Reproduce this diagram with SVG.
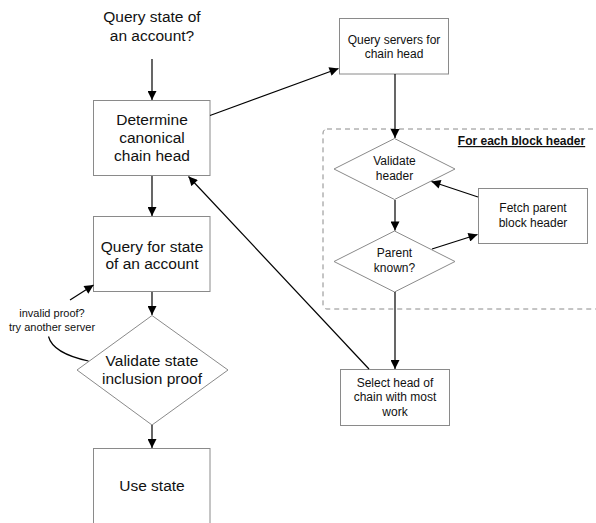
<svg xmlns="http://www.w3.org/2000/svg" width="596" height="523" viewBox="0 0 596 523">
<defs>
<marker id="ah" viewBox="0 0 10 10" refX="10" refY="5" markerWidth="10" markerHeight="9" markerUnits="userSpaceOnUse" orient="auto">
<path d="M0,0 L10,5 L0,10 z" fill="#000"/>
</marker>
<style>
.box{fill:#fff;stroke:#8a8a8a;stroke-width:1}
.t{font-family:"Liberation Sans",Arial,sans-serif;fill:#111;text-anchor:middle}
.big{font-size:15.5px}
.sm{font-size:12px}
.xs{font-size:11px}
.c{stroke:#000;stroke-width:1.2;fill:none}
</style>
</defs>
<rect id="loop" x="323" y="129" width="300" height="180" rx="4" fill="none" stroke="#8a8a8a" stroke-width="1" stroke-dasharray="5,4"/>
<text class="t" x="521.5" y="145" style="font-size:12px;font-weight:bold;text-decoration:underline">For each block header</text>
<g id="title">
<text class="t big" x="152" y="22">Query state of</text>
<text class="t big" x="152" y="41">an account?</text>
</g>
<g id="determine">
<rect class="box" x="93.5" y="100.5" width="116.5" height="75"/>
<text class="t big" x="152" y="125">Determine</text>
<text class="t big" x="152" y="143">canonical</text>
<text class="t big" x="152" y="161">chain head</text>
</g>
<g id="queryState">
<rect class="box" x="93.5" y="216.5" width="116.5" height="75"/>
<text class="t big" x="152" y="252">Query for state</text>
<text class="t big" x="152" y="269">of an account</text>
</g>
<g id="validateState">
<polygon class="box" points="152,315.5 228,370 152,425 77,370"/>
<text class="t big" x="152" y="366">Validate state</text>
<text class="t big" x="152" y="384">inclusion proof</text>
</g>
<g id="useState">
<rect class="box" x="93.5" y="448.5" width="116.5" height="90"/>
<text class="t big" x="152" y="491">Use state</text>
</g>
<g id="queryServers">
<rect class="box" x="339.5" y="18.5" width="109" height="55.5"/>
<text class="t sm" x="394" y="44">Query servers for</text>
<text class="t sm" x="394" y="58">chain head</text>
</g>
<g id="validateHeader">
<polygon class="box" points="394.5,138.5 455,169 394.5,199.5 334,169"/>
<text class="t sm" x="394.5" y="165">Validate</text>
<text class="t sm" x="394.5" y="180">header</text>
</g>
<g id="fetchParent">
<rect class="box" x="478.5" y="188.5" width="109" height="55"/>
<text class="t sm" x="533" y="212">Fetch parent</text>
<text class="t sm" x="533" y="227">block header</text>
</g>
<g id="parentKnown">
<polygon class="box" points="394.5,231 455,261.5 394.5,292 334,261.5"/>
<text class="t sm" x="394.5" y="257">Parent</text>
<text class="t sm" x="394.5" y="272">known?</text>
</g>
<g id="selectHead">
<rect class="box" x="340.5" y="369.5" width="109" height="56"/>
<text class="t sm" x="395" y="387">Select head of</text>
<text class="t sm" x="395" y="401">chain with most</text>
<text class="t sm" x="395" y="416">work</text>
</g>
<g id="note">
<text class="t xs" x="52" y="317">invalid proof?</text>
<text class="t xs" x="52" y="331">try another server</text>
</g>
<g id="connectors">
<line class="c" x1="152" y1="59" x2="152" y2="100" marker-end="url(#ah)"/>
<line class="c" x1="152" y1="176" x2="152" y2="216" marker-end="url(#ah)"/>
<line class="c" x1="152" y1="292" x2="152" y2="315" marker-end="url(#ah)"/>
<line class="c" x1="152" y1="425" x2="152" y2="448" marker-end="url(#ah)"/>
<line class="c" x1="210" y1="115.5" x2="338.5" y2="68.5" marker-end="url(#ah)"/>
<line class="c" x1="395" y1="74" x2="395" y2="138" marker-end="url(#ah)"/>
<line class="c" x1="395" y1="200" x2="395" y2="230.5" marker-end="url(#ah)"/>
<line class="c" x1="395" y1="292" x2="395" y2="369" marker-end="url(#ah)"/>
<line class="c" x1="478" y1="197" x2="431.5" y2="181.5" marker-end="url(#ah)"/>
<line class="c" x1="432" y1="249" x2="477.5" y2="234.5" marker-end="url(#ah)"/>
<line class="c" x1="369" y1="369" x2="188.5" y2="176.5" marker-end="url(#ah)"/>
<line class="c" x1="70" y1="300" x2="93.5" y2="285" marker-end="url(#ah)"/>
<path class="c" d="M48.5,336.5 C52,350 70,357 88.5,361"/>
</g>
</svg>
